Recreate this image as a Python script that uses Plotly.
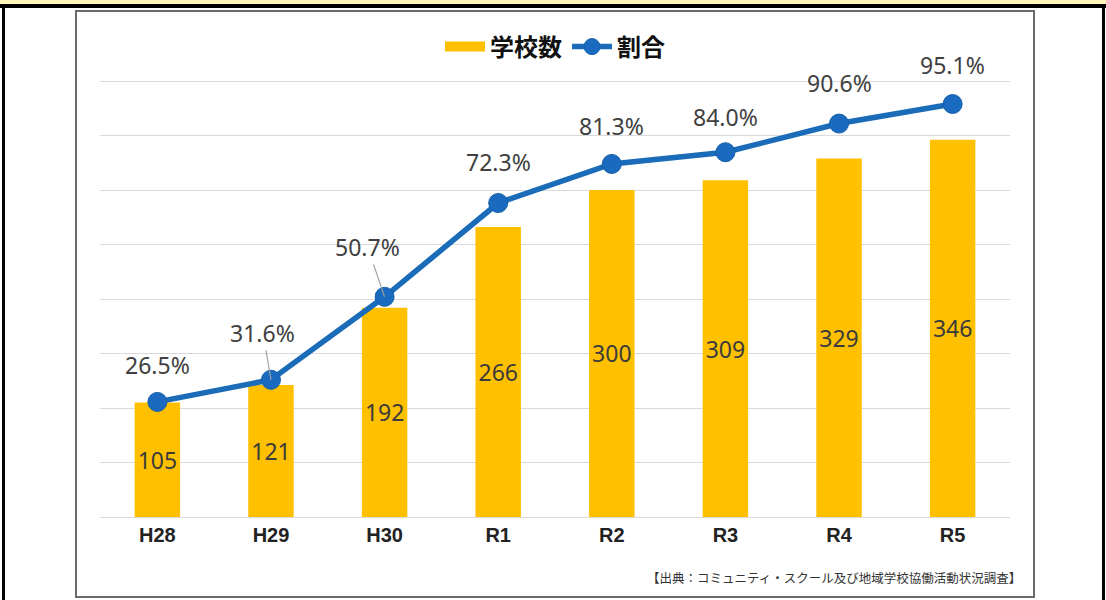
import plotly.graph_objects as go

categories = ["H28", "H29", "H30", "R1", "R2", "R3", "R4", "R5"]
schools = [105, 121, 192, 266, 300, 309, 329, 346]
ratio = [26.5, 31.6, 50.7, 72.3, 81.3, 84.0, 90.6, 95.1]
bar_name = "学校数"
line_name = "割合"
source_text = "【出典：コミュニティ・スクール及び地域学校協働活動状況調査】"

# label offsets (pixels) for the percentage labels
label_offsets = [(0, -37), (-8, -47), (-17, -50), (0, -41), (0, -38), (0, -35), (0, -41), (0, -39)]
leader = [False, True, True, False, False, False, False, False]

W, H = 1106, 600
ML, MR, MT, MB = 100, 96, 79, 83
PW, PH = W - ML - MR, H - MT - MB


def px(xp):
    return (xp - ML) / PW


def py(yp):
    return (H - MB - yp) / PH


JP = "Noto Sans CJK JP"
SANS = "Noto Sans"
BAR_COLOR = "#FFC000"

fig = go.Figure()
fig.add_trace(go.Bar(
    x=categories, y=schools, name=bar_name, showlegend=False,
    marker=dict(color=BAR_COLOR, line=dict(width=0)),
    text=[str(v) for v in schools], textposition="inside",
    insidetextanchor="middle", textangle=0,
    textfont=dict(family=SANS, size=23, color="#3b3b3b"),
    yaxis="y",
))
# legend entry for the bars drawn as a wide block
fig.add_trace(go.Scatter(
    x=[None], y=[None], name=bar_name, mode="lines",
    line=dict(color=BAR_COLOR, width=14), yaxis="y", showlegend=True,
))
fig.add_trace(go.Scatter(
    x=categories, y=ratio, name=line_name, mode="lines+markers",
    line=dict(color="#1a6bb8", width=5.5),
    marker=dict(size=19, color="#1a6bc0", line=dict(color="#155fa8", width=1)),
    yaxis="y2",
))

annotations = []
for c, r, (ax, ay), ld in zip(categories, ratio, label_offsets, leader):
    annotations.append(dict(
        x=c, y=r, xref="x", yref="y2", text=f"{r:.1f}%",
        showarrow=True, ax=ax, ay=ay, axref="pixel", ayref="pixel",
        arrowhead=0, arrowwidth=1.2,
        arrowcolor="#a0a0a0" if ld else "rgba(0,0,0,0)",
        standoff=0, startstandoff=0,
        font=dict(family=SANS, size=23, color="#404040"),
    ))
annotations.append(dict(
    x=px(1023), y=py(577), xref="paper", yref="paper", text=source_text,
    showarrow=False, xanchor="right", yanchor="middle",
    font=dict(family=JP, size=12.5, color="#333333"),
))

shapes = [
    dict(type="rect", xref="paper", yref="paper", x0=px(0), x1=px(W), y0=py(0), y1=py(4),
         fillcolor="#FFF6B8", line=dict(width=0), layer="below"),
    dict(type="rect", xref="paper", yref="paper", x0=px(0), x1=px(W), y0=py(4), y1=py(8),
         fillcolor="#000000", line=dict(width=0), layer="below"),
    dict(type="rect", xref="paper", yref="paper", x0=px(2), x1=px(5), y0=py(4), y1=py(H),
         fillcolor="#000000", line=dict(width=0), layer="below"),
    dict(type="rect", xref="paper", yref="paper", x0=px(1102), x1=px(1105), y0=py(4), y1=py(H),
         fillcolor="#000000", line=dict(width=0), layer="below"),
    dict(type="rect", xref="paper", yref="paper", x0=px(76), x1=px(1034), y0=py(11), y1=py(597),
         fillcolor="rgba(0,0,0,0)", line=dict(color="#6a6a6a", width=2), layer="below"),
]

fig.update_layout(
    width=W, height=H,
    margin=dict(l=ML, r=MR, t=MT, b=MB),
    paper_bgcolor="white", plot_bgcolor="white",
    bargap=0.6,
    showlegend=True,
    legend=dict(orientation="h", x=0.5, xanchor="center", y=py(47), yanchor="middle",
                font=dict(family=JP, size=24, color="#111111", weight="bold"),
                traceorder="normal", itemwidth=40),
    xaxis=dict(showline=True, linecolor="#d9d9d9", linewidth=1, ticks="",
               tickfont=dict(family="Liberation Sans", size=20, color="#222222", weight="bold"),
               showgrid=False),
    yaxis=dict(range=[0, 400 * PH / 436], dtick=50, showgrid=True, gridcolor="#d9d9d9",
               gridwidth=1, showticklabels=False, zeroline=False, ticks=""),
    yaxis2=dict(range=[0, 100.4 * PH / 436], overlaying="y", side="right", showgrid=False,
                showticklabels=False, zeroline=False, ticks=""),
    annotations=annotations,
    shapes=shapes,
)

fig.write_html(
    "out.html",
    config={"displayModeBar": False},
    post_script="document.body.style.margin='0';document.body.style.overflow='hidden';",
)
